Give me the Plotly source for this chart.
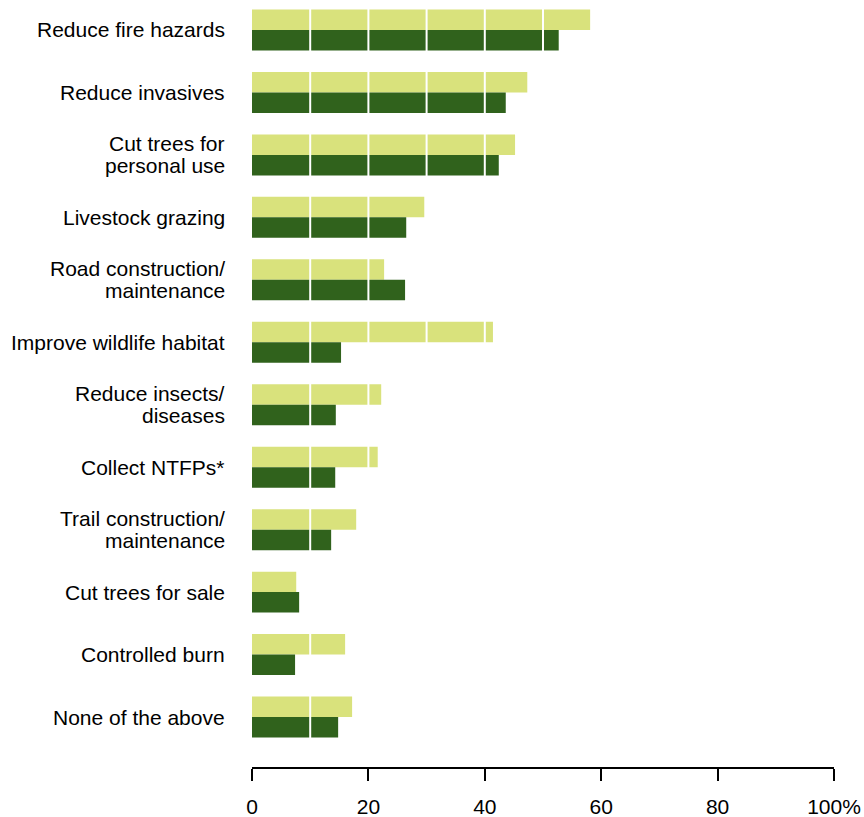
import plotly.graph_objects as go

categories = [
    "Reduce fire hazards",
    "Reduce invasives",
    "Cut trees for<br>personal use",
    "Livestock grazing",
    "Road construction/<br>maintenance",
    "Improve wildlife habitat",
    "Reduce insects/<br>diseases",
    "Collect NTFPs*",
    "Trail construction/<br>maintenance",
    "Cut trees for sale",
    "Controlled burn",
    "None of the above",
]
series_light = [58.1, 47.3, 45.2, 29.6, 22.7, 41.4, 22.2, 21.6, 17.9, 7.6, 16.0, 17.2]
series_dark = [52.7, 43.6, 42.4, 26.5, 26.3, 15.3, 14.4, 14.3, 13.6, 8.1, 7.4, 14.8]
x_tick_vals = [0, 20, 40, 60, 80, 100]
x_tick_text = ["0", "20", "40", "60", "80", "100%"]
grid_vals = [10, 20, 30, 40, 50, 60, 70, 80, 90]

LIGHT = "#D9E27C"
DARK = "#30621C"
FONT = "Liberation Sans, Arial, sans-serif"
FS = 21

ypos = list(range(len(categories)))

fig = go.Figure()
fig.add_trace(go.Bar(y=ypos, x=series_light, orientation="h",
                     marker=dict(color=LIGHT, line=dict(width=0)), name="light"))
fig.add_trace(go.Bar(y=ypos, x=series_dark, orientation="h",
                     marker=dict(color=DARK, line=dict(width=0)), name="dark"))

for g in grid_vals:
    fig.add_shape(type="line", xref="x", yref="paper", x0=g, x1=g, y0=0.02, y1=1,
                  line=dict(color="white", width=2), layer="above")

# category labels as annotations (to control line spacing of two-line labels)
for i, lab in enumerate(categories):
    lines = lab.split("<br>")
    n = len(lines)
    for k, line in enumerate(lines):
        shift = (n - 1) * 11 - k * 22
        fig.add_annotation(x=0, xref="paper", y=i, yref="y", text=line,
                           showarrow=False, xanchor="right", yanchor="middle",
                           xshift=-25, yshift=shift,
                           font=dict(family=FONT, size=FS, color="black"))

fig.update_layout(
    width=864, height=817,
    margin=dict(l=252, r=30, t=0, b=50, autoexpand=False),
    barmode="group", bargap=0.344, bargroupgap=0,
    showlegend=False,
    plot_bgcolor="white", paper_bgcolor="white",
    font=dict(family=FONT, size=FS, color="black"),
)
fig.update_xaxes(range=[0, 100], tickvals=x_tick_vals, ticktext=x_tick_text,
                 showgrid=False, zeroline=False, showline=True, linecolor="black",
                 linewidth=1.5, ticks="outside", ticklen=12, tickwidth=1.5,
                 tickcolor="black", ticklabelstandoff=8, automargin=False,
                 tickfont=dict(family=FONT, size=FS, color="black"))
fig.update_yaxes(range=[11.8, -0.48], tickvals=ypos, showticklabels=False,
                 showgrid=False, zeroline=False, showline=False, ticks="",
                 automargin=False)

fig.write_html("out.html", config={"displayModeBar": False},
               post_script="document.body.style.margin='0';")
